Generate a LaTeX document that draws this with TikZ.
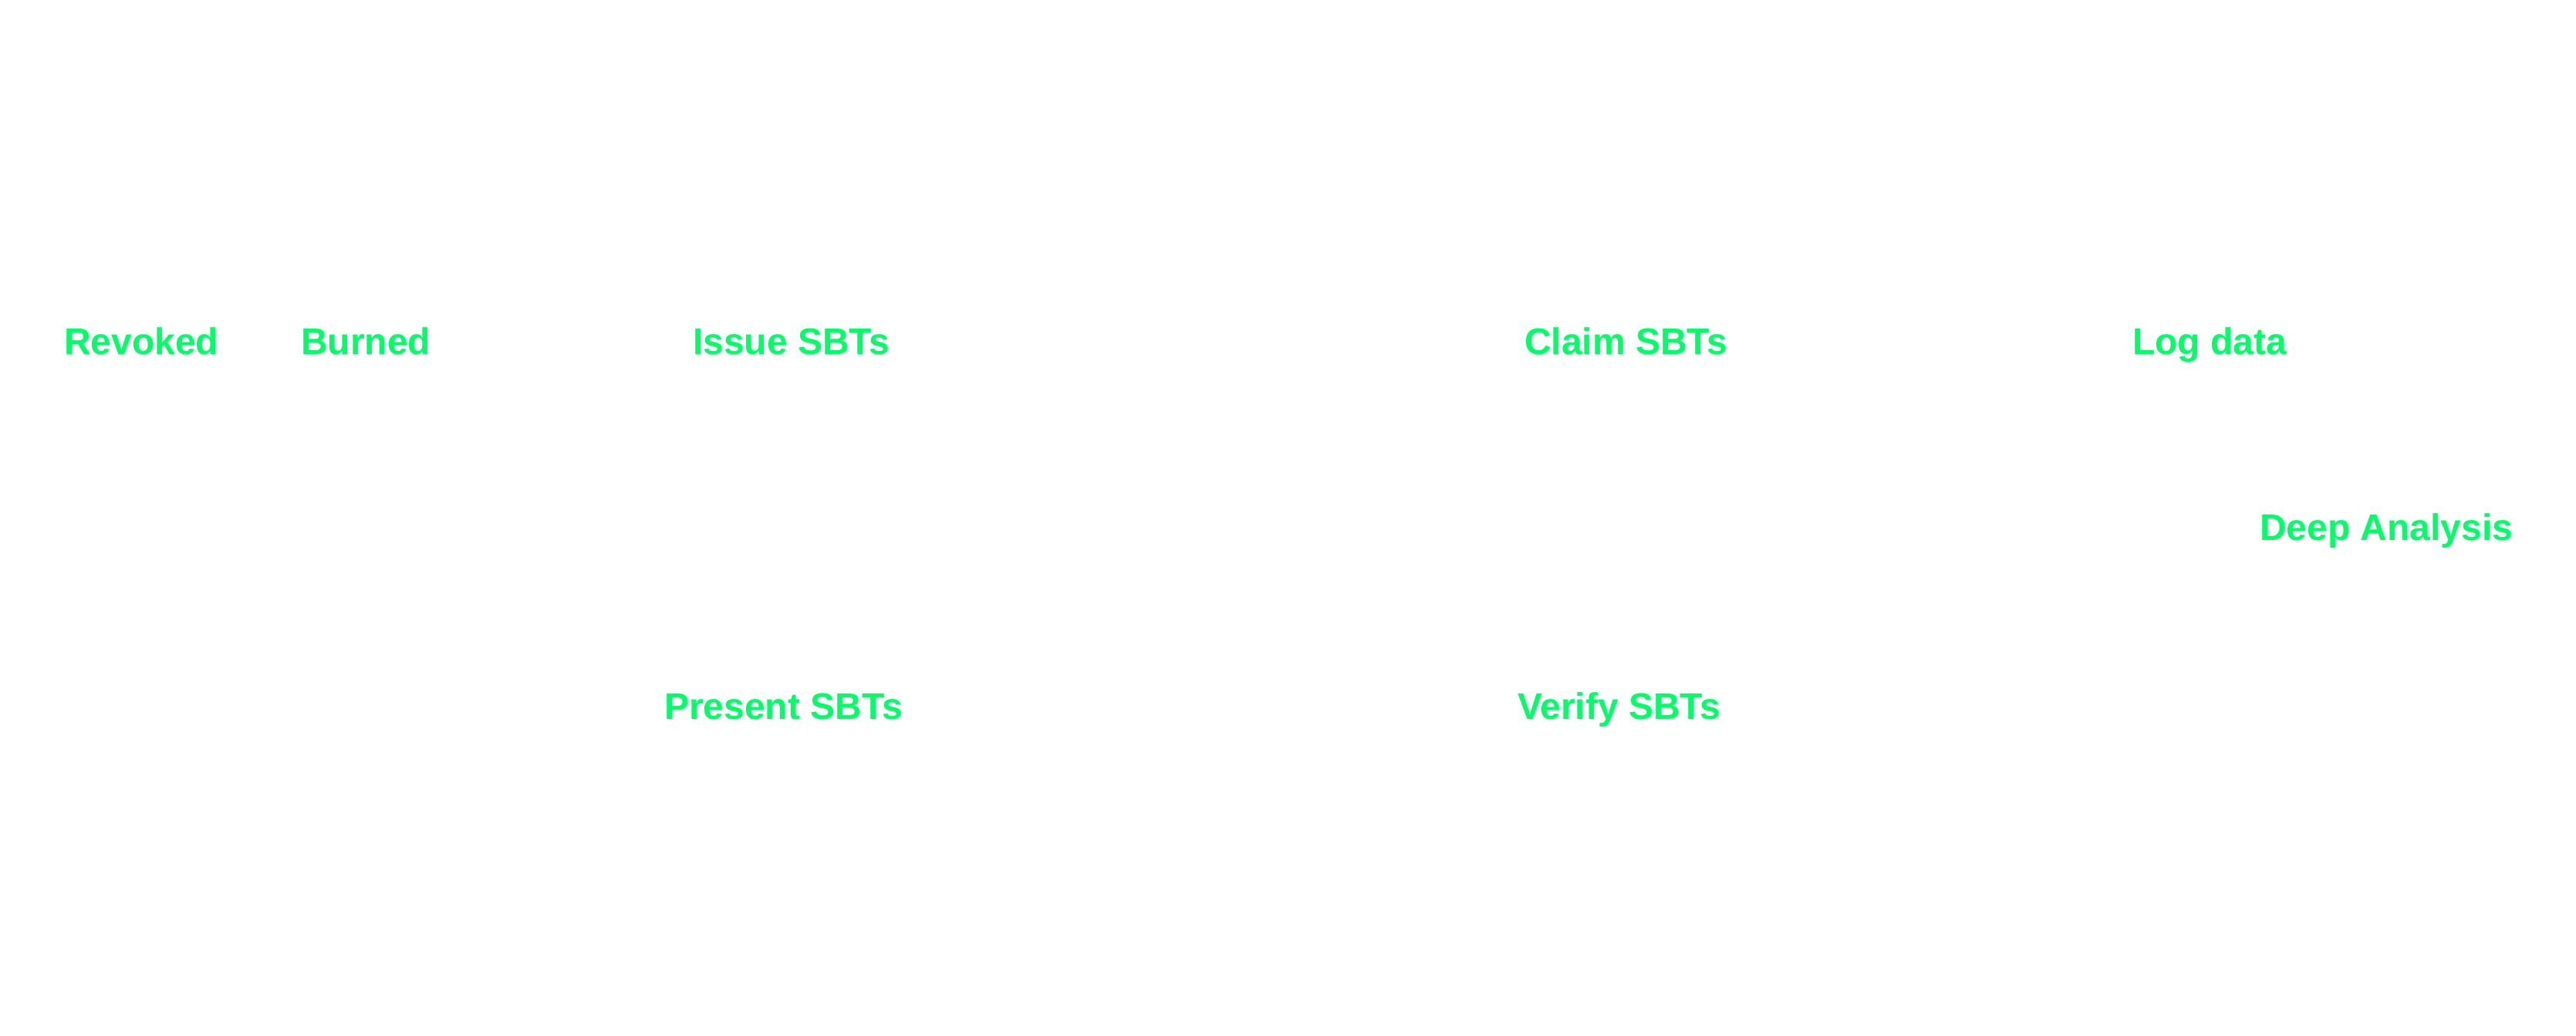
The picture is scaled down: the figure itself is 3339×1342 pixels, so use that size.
\documentclass[tikz,border=0pt]{standalone}
\usepackage{fontspec}
\setmainfont{Liberation Sans}
\definecolor{lblgreen}{HTML}{00FF66}
\begin{document}
\begin{tikzpicture}[x=0.01cm,y=-0.01cm,
  lbl/.style={anchor=base west,inner sep=0pt,outer sep=0pt,text=lblgreen,
    font=\fontsize{13.66pt}{16pt}\selectfont\bfseries}]
\useasboundingbox[fill=white] (0,0) rectangle (3339,1342);
\node[lbl] (revoked) at (83,459) {Revoked};
\node[lbl] (burned) at (390,459) {Burned};
\node[lbl] (issue) at (898,459) {Issue SBTs};
\node[lbl] (claim) at (1976,459) {Claim SBTs};
\node[lbl] (log) at (2764,459) {Log data};
\node[lbl] (deep) at (2929,700) {Deep Analysis};
\node[lbl] (present) at (861,932.3) {Present SBTs};
\node[lbl] (verify) at (1967,932.3) {Verify SBTs};
\end{tikzpicture}
\end{document}
